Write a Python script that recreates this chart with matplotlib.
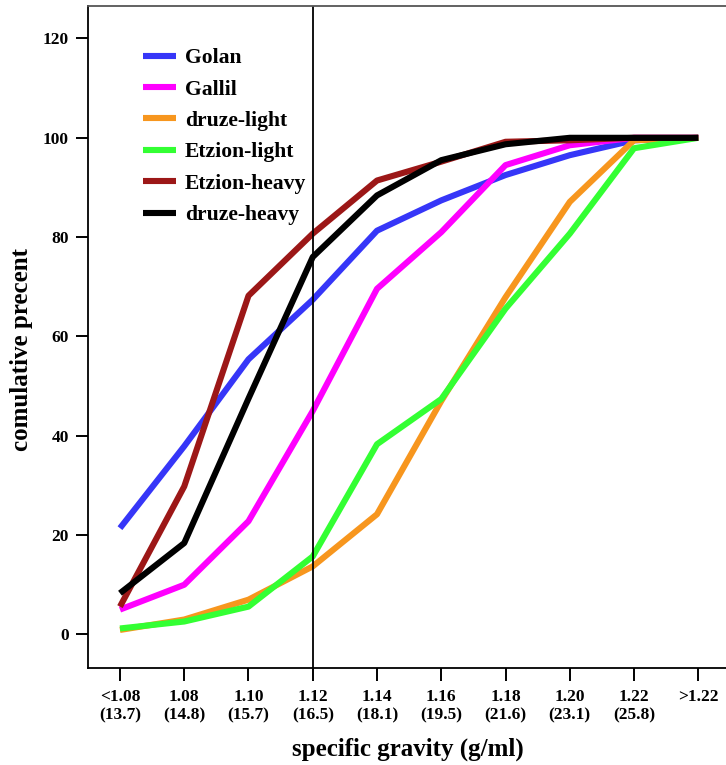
import numpy as np
import matplotlib
matplotlib.use("Agg")
import matplotlib.pyplot as plt

plt.rcParams["font.family"] = ["Liberation Serif", "DejaVu Serif"]
plt.rcParams["font.weight"] = "bold"

# Categories (specific gravity bins)
tick_labels = ["<1.08\n(13.7)", "1.08\n(14.8)", "1.10\n(15.7)", "1.12\n(16.5)",
               "1.14\n(18.1)", "1.16\n(19.5)", "1.18\n(21.6)", "1.20\n(23.1)",
               "1.22\n(25.8)", ">1.22"]

# Cumulative percent per sample
golan = [21.4, 37.9, 55.4, 67.4, 81.3, 87.4, 92.5, 96.5, 99.5, 100]
gallil = [5.0, 10.0, 22.8, 45.0, 69.6, 81.0, 94.5, 98.5, 100, 100]
druze_light = [0.9, 3.0, 7.0, 13.7, 24.2, 47.0, 67.9, 87.1, 99.5, 100]
etzion_light = [1.2, 2.6, 5.6, 15.7, 38.3, 47.4, 65.6, 80.7, 97.9, 100]
etzion_heavy = [5.6, 29.8, 68.2, 80.7, 91.4, 95.2, 99.2, 99.5, 100, 100]
druze_heavy = [8.3, 18.4, 47.5, 76.0, 88.4, 95.5, 98.7, 100, 100, 100]

series = [
    ("Golan", golan, "#3636f8"),
    ("Gallil", gallil, "#ff00ff"),
    ("druze-light", druze_light, "#f7961e"),
    ("Etzion-light", etzion_light, "#33ff33"),
    ("Etzion-heavy", etzion_heavy, "#9c1717"),
    ("druze-heavy", druze_heavy, "#000000"),
]

fig = plt.figure(figsize=(7.26, 7.65), dpi=100)
ax = fig.add_axes([88.3 / 726, 1 - 667.7 / 765, 1 - 88.3 / 726, (667.7 - 5.7) / 765])

x = np.arange(len(tick_labels))
for name, vals, col in series:
    ax.plot(x, vals, color=col, lw=4.4, label=name, solid_capstyle="butt")

ax.axvline(3, color="black", lw=1.3)

ax.set_xlim(-0.493, 9.431)
ax.set_ylim(-6.7, 126.6)
ax.set_xticks(x)
ax.set_xticklabels(tick_labels, fontsize=12.5, fontweight="bold", linespacing=1.25)
ax.set_yticks(np.arange(0, 121, 20))
ax.tick_params(axis="both", length=9, width=1.4, labelsize=12.5)
ax.tick_params(axis="y", pad=5)
ax.tick_params(axis="x", pad=6)
for lab in ax.get_yticklabels():
    lab.set_fontweight("bold")

ax.spines["right"].set_visible(False)
for s in ["left", "bottom", "top"]:
    ax.spines[s].set_linewidth(1.3)
ax.spines["top"].set_color("#555555")

ax.set_ylabel("comulative precent", fontsize=18, fontweight="bold")
ax.yaxis.set_label_coords(-0.087, 0.481)
ax.set_xlabel("specific gravity (g/ml)", fontsize=18, fontweight="bold")
ax.xaxis.set_label_coords(0.501, -0.106)

leg = ax.legend(loc="upper left", bbox_to_anchor=(143 / 726, 1 - 48 / 765),
                bbox_transform=fig.transFigure, frameon=False,
                prop={"size": 15.6, "weight": "bold"}, handlelength=1.52,
                handletextpad=0.41, labelspacing=0.52, borderpad=0, borderaxespad=0)
for h in leg.get_lines():
    h.set_linewidth(4.4)

fig.savefig("out.png", dpi=100)
